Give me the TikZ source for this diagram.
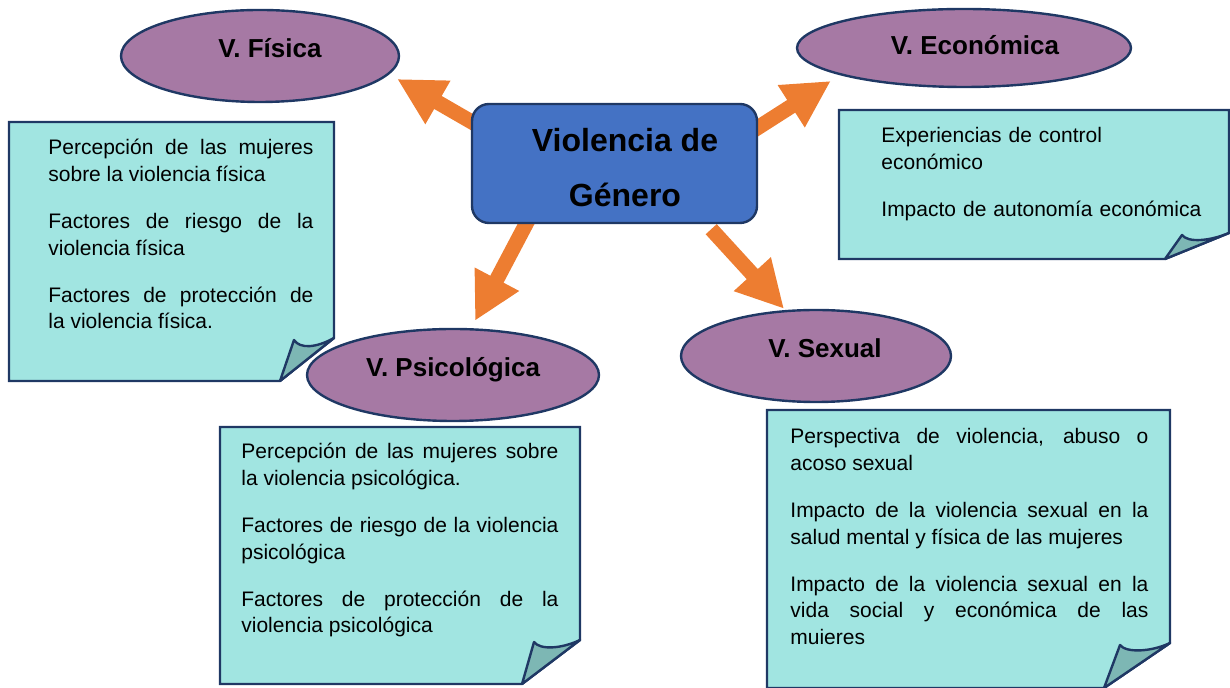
\documentclass[tikz,border=0pt]{standalone}
\usepackage{fontspec}
\setmainfont{Liberation Sans}
\usetikzlibrary{shapes.geometric,arrows.meta,backgrounds}

\definecolor{navy}{RGB}{31,56,100}
\definecolor{notefill}{RGB}{161,229,225}
\definecolor{foldfill}{RGB}{125,183,180}
\definecolor{lilac}{RGB}{166,121,164}
\definecolor{centreblue}{RGB}{68,114,196}
\definecolor{arroworange}{RGB}{237,125,49}

\begin{document}
\begin{tikzpicture}[x=0.5pt, y=-0.5pt,
    kind/.style={ellipse, draw=navy, line width=1.2pt, fill=lilac, inner sep=0pt},
    kindtext/.style={inner sep=0pt, font=\fontsize{13}{15}\selectfont\bfseries,
        text height=9.3pt, text depth=0pt},
    centre/.style={rectangle, rounded corners=8.5pt, draw=navy, line width=1.2pt, fill=centreblue,
        minimum width=142.5pt, minimum height=59.5pt},
    centretext/.style={inner sep=0pt, align=center, font=\fontsize{16}{27.5}\selectfont\bfseries},
    note/.style={draw=navy, line width=1.2pt, fill=notefill},
    fold/.style={draw=navy, line width=1.2pt, fill=foldfill, line join=round},
    notetext/.style={anchor=base west, inner sep=0pt, align=justify,
        font=\fontsize{10.5}{13.4}\selectfont,
        execute at begin node=\setlength{\parskip}{10pt}},
    bigarrow/.style={draw=arroworange, line width=7.5pt,
        -{Triangle[length=23.5pt,width=23.5pt]}}]
    \useasboundingbox (0,0) rectangle (1230,688);

    % Nodes {centre, fisica, economica, psicologica, sexual}
    \node [centre, label={[centretext, xshift=5.25pt, yshift=-2.25pt]center:Violencia de\\Género}]
        (centre) at (614.5,163.5) {};
    \node [kind, minimum width=139pt, minimum height=46pt,
        label={[kindtext, xshift=5pt, yshift=4pt]center:V. Física}]        (fisica)      at (260,56)  {};
    \node [kind, minimum width=167pt, minimum height=39pt,
        label={[kindtext, xshift=5.5pt, yshift=1.5pt]center:V. Económica}] (economica)   at (964,48)  {};
    \node [kind, minimum width=146pt, minimum height=46pt,
        label={[kindtext, yshift=4pt]center:V. Psicológica}]               (psicologica) at (453,375) {};
    \node [kind, minimum width=135pt, minimum height=46pt,
        label={[kindtext, xshift=4.5pt, yshift=4pt]center:V. Sexual}]      (sexual)      at (816,356) {};

    % Notes
    \draw [note] (9,122) -- (334,122) -- (334,338) -- (280,381) -- (9,381) -- cycle;
    \draw [fold] (334,338) .. controls (316,348) and (300,349) .. (294,340) -- (280,381) -- cycle;
    \node [notetext, text width=132.5pt] (fisicatext) at (48,155)
        {Percepción de las mujeres\linebreak sobre la violencia física\par
         Factores de riesgo de la\linebreak violencia física\par
         Factores de protección de\linebreak la violencia física.};

    \draw [note] (839,110) -- (1229,110) -- (1229,233) -- (1165,259) -- (839,259) -- cycle;
    \draw [fold] (1229,233) .. controls (1210,241) and (1188,243) .. (1182,235) -- (1165,259) -- cycle;
    \node [notetext, text width=165pt, align=left] (economicatext) at (881,143)
        {Experiencias de control\\ económico\par
         Impacto de autonomía económica};

    \draw [note] (220,427) -- (580,427) -- (580,640) -- (522,684) -- (220,684) -- cycle;
    \draw [fold] (580,640) .. controls (561,649) and (540,650) .. (534,642) -- (522,684) -- cycle;
    \node [notetext, text width=158.5pt] (psicologicatext) at (241,459)
        {Percepción de las mujeres sobre\linebreak la violencia psicológica.\par
         Factores de riesgo de la violencia\linebreak psicológica\par
         Factores de protección de la\linebreak violencia psicológica};

    \draw [note] (767,410) -- (1170,410) -- (1170,643) -- (1104,688) -- (767,688) -- cycle;
    \draw [fold] (1170,643) .. controls (1151,652) and (1126,653) .. (1120,645) -- (1104,688) -- cycle;
    \node [notetext, text width=179pt] (sexualtext) at (790,444)
        {Perspectiva de violencia, abuso o\linebreak acoso sexual\par
         Impacto de la violencia sexual en la\linebreak salud mental y física de las mujeres\par
         Impacto de la violencia sexual en la\linebreak vida social y económica de las\linebreak muieres};

    % Paths
    \begin{scope}[on background layer]
    \draw [bigarrow] ([shift={(18,29)}]centre.north west)  -- ([shift={(-3,23)}]fisica.east);
    \draw [bigarrow] ([shift={(-10,31)}]centre.north east) -- ([shift={(35,33)}]economica.west);
    \draw [bigarrow] ([shift={(62,-13)}]centre.south west) -- ([shift={(22,-7)}]psicologica.north);
    \draw [bigarrow] ([shift={(-47,5)}]centre.south east)  -- ([shift={(-32,0)}]sexual.north);
    \end{scope}
\end{tikzpicture}
\end{document}
